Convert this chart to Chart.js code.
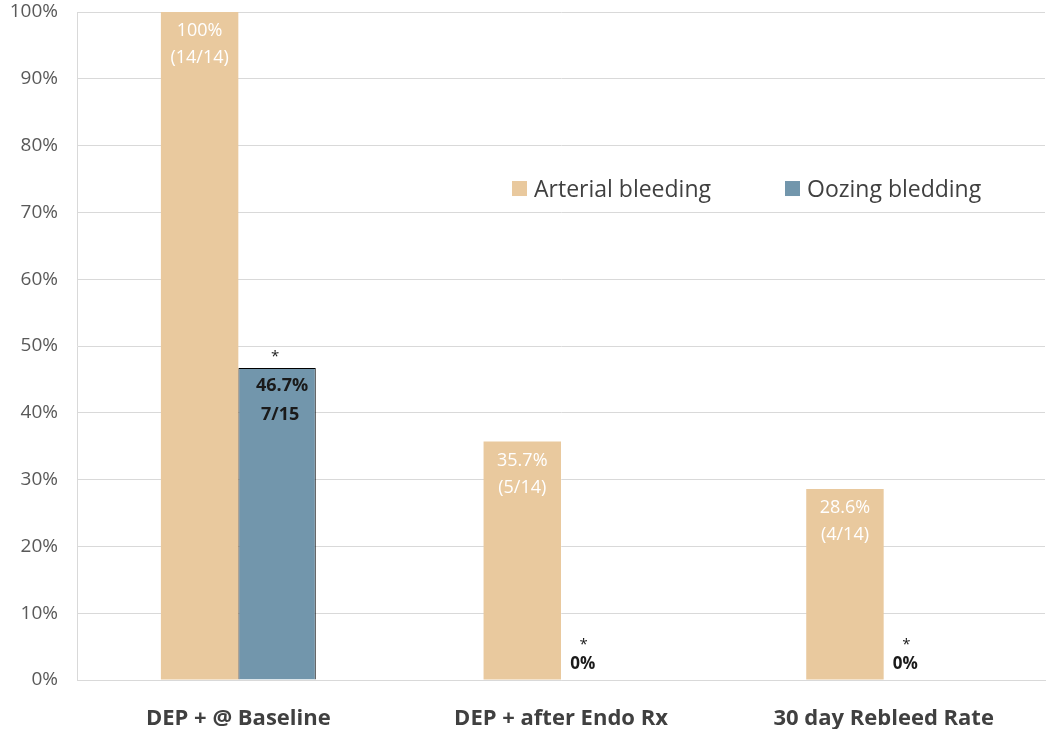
<!DOCTYPE html>
<html>
<head>
<meta charset="utf-8">
<script src="https://cdn.jsdelivr.net/npm/chart.js@4"></script>
<style>
  html, body { margin: 0; padding: 0; background: #fff; }
  #wrap { width: 1050px; height: 729px; }
</style>
</head>
<body>
<div id="wrap"><canvas id="myChart" width="1050" height="729"></canvas></div>
<script>
// データ
const categories = ['DEP + @ Baseline', 'DEP + after Endo Rx', '30 day Rebleed Rate'];
const arterialValues = [100, 35.7, 28.6];
const oozingValues = [46.7, 0, 0];
const arterialLabels = [['100%', '(14/14)'], ['35.7%', '(5/14)'], ['28.6%', '(4/14)']];
const oozingLabels = [['46.7%', '7/15'], ['0%'], ['0%']];
const yTicks = [0, 10, 20, 30, 40, 50, 60, 70, 80, 90, 100];

const arterialColor = 'rgb(233,201,158)';
const oozingColor = 'rgb(114,150,172)';
const fontFamily = '"Open Sans", "Liberation Sans", sans-serif';

// バーのラベルと凡例を描く
const labelPlugin = {
  id: 'barLabels',
  afterDatasetsDraw(chart) {
    const c = chart.ctx;
    c.save();
    c.textAlign = 'center';
    c.textBaseline = 'middle';

    // 動脈性出血: 白文字、バーの上部内側
    chart.getDatasetMeta(0).data.forEach((bar, i) => {
      c.fillStyle = '#ffffff';
      c.font = '18px ' + fontFamily;
      c.fillText(arterialLabels[i][0], bar.x, bar.y + 19);
      c.fillText(arterialLabels[i][1], bar.x, bar.y + 46);
    });

    // 湧出性出血: 黒文字と「*」
    chart.getDatasetMeta(1).data.forEach((bar, i) => {
      c.fillStyle = '#1a1a1a';
      if (oozingLabels[i].length > 1) {
        c.font = '15px ' + fontFamily;
        c.fillText('*', bar.x - 2, bar.y - 11);
        c.font = 'bold 18px ' + fontFamily;
        c.fillText(oozingLabels[i][0], bar.x + 5, bar.y + 18);
        c.fillText(oozingLabels[i][1], bar.x + 3, bar.y + 47);
      } else {
        c.font = '15px ' + fontFamily;
        c.fillText('*', bar.x - 16, bar.y - 35);
        c.font = 'bold 17px ' + fontFamily;
        c.fillText(oozingLabels[i][0], bar.x - 17, bar.y - 16);
      }
    });

    // 凡例
    const legendY = chart.scales.y.getPixelForValue(73.5);
    const items = [
      { text: chart.data.datasets[0].label, color: arterialColor, x: 512 },
      { text: chart.data.datasets[1].label, color: oozingColor, x: 785 }
    ];
    c.textAlign = 'left';
    c.font = '23px ' + fontFamily;
    items.forEach(item => {
      c.fillStyle = item.color;
      c.fillRect(item.x, legendY - 8, 15, 15);
      c.fillStyle = '#404040';
      c.fillText(item.text, item.x + 22, legendY + 1);
    });
    c.restore();
  }
};

const ctx = document.getElementById('myChart');
new Chart(ctx, {
  type: 'bar',
  data: {
    labels: categories,
    datasets: [
      {
        label: 'Arterial bleeding',
        data: arterialValues,
        backgroundColor: arterialColor,
        borderWidth: 0
      },
      {
        label: 'Oozing bledding',
        data: oozingValues,
        backgroundColor: oozingColor,
        borderColor: '#000000',
        borderWidth: 1
      }
    ]
  },
  options: {
    responsive: false,
    animation: false,
    layout: { padding: { top: 12, right: 5, bottom: 0, left: 0 } },
    plugins: {
      legend: { display: false },
      tooltip: { enabled: false }
    },
    datasets: {
      bar: { categoryPercentage: 0.48, barPercentage: 1.0 }
    },
    scales: {
      x: {
        grid: { display: false },
        border: { color: '#d9d9d9' },
        afterFit(axis) { axis.height = 49; },
        ticks: {
          color: '#404040',
          font: { family: fontFamily, size: 22, weight: 'bold' },
          padding: 18
        }
      },
      y: {
        min: 0,
        max: 100,
        afterBuildTicks(axis) {
          axis.ticks = yTicks.map(v => ({ value: v }));
        },
        grid: { color: '#d9d9d9', drawTicks: false },
        border: { color: '#d9d9d9' },
        afterFit(axis) {
          axis.width = 77;
          axis.paddingTop = 0;
          axis.paddingBottom = 0;
        },
        ticks: {
          color: '#595959',
          font: { family: fontFamily, size: 19 },
          padding: 19,
          callback: v => v + '%'
        }
      }
    }
  },
  plugins: [labelPlugin]
});
</script>
</body>
</html>
